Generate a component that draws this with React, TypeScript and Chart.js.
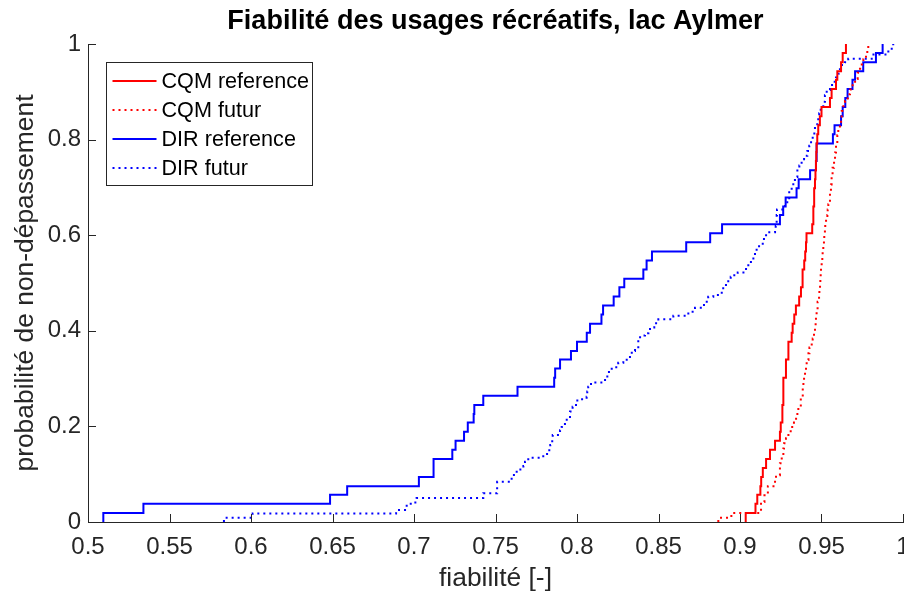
import React, { useEffect, useRef } from 'react';
import { Chart, registerables } from 'chart.js';

Chart.register(...registerables);

const chartTitle = 'Fiabilité des usages récréatifs, lac Aylmer';
const xAxisLabel = 'fiabilité [-]';
const yAxisLabel = 'probabilité de non-dépassement';
const seriesNames = ['CQM reference', 'CQM futur', 'DIR reference', 'DIR futur'];

const xTickValues = [0.5, 0.55, 0.6, 0.65, 0.7, 0.75, 0.8, 0.85, 0.9, 0.95, 1];
const yTickValues = [0, 0.2, 0.4, 0.6, 0.8, 1];

// CQM reference (stair corners: fiabilité, probabilité)
const cqmRefX = [0.9035, 0.9035, 0.9095, 0.9106, 0.9125, 0.913, 0.914, 0.916, 0.9184, 0.9215, 0.9245, 0.925, 0.926, 0.9266, 0.9282, 0.9297, 0.9317, 0.9323, 0.9333, 0.9343, 0.9363, 0.9374, 0.9384, 0.9394, 0.94, 0.9405, 0.9408, 0.9443, 0.945, 0.9455, 0.946, 0.9463, 0.9466, 0.9468, 0.947, 0.9474, 0.948, 0.949, 0.95, 0.9552, 0.9562, 0.9589, 0.9597, 0.962, 0.963, 0.965];
const cqmRefP = [0, 0.019, 0.038, 0.057, 0.075, 0.094, 0.113, 0.132, 0.151, 0.17, 0.189, 0.208, 0.245, 0.302, 0.34, 0.377, 0.396, 0.415, 0.434, 0.453, 0.472, 0.491, 0.528, 0.547, 0.566, 0.585, 0.604, 0.623, 0.66, 0.698, 0.717, 0.736, 0.755, 0.774, 0.792, 0.811, 0.83, 0.849, 0.868, 0.887, 0.906, 0.925, 0.943, 0.962, 0.981, 1.0];

// CQM futur
const cqmFutX = [0.8867, 0.8867, 0.8947, 0.9129, 0.915, 0.9171, 0.9215, 0.9221, 0.9245, 0.9256, 0.9266, 0.927, 0.9282, 0.9297, 0.9311, 0.9331, 0.9344, 0.9352, 0.9358, 0.9373, 0.9385, 0.9389, 0.9393, 0.9399, 0.9405, 0.9409, 0.942, 0.9426, 0.944, 0.9446, 0.9454, 0.946, 0.9464, 0.9466, 0.947, 0.9476, 0.948, 0.9485, 0.9487, 0.9491, 0.9493, 0.9495, 0.9497, 0.9501, 0.9505, 0.9507, 0.9511, 0.9515, 0.9517, 0.9521, 0.9523, 0.9528, 0.9536, 0.9538, 0.9542, 0.9552, 0.9558, 0.9562, 0.9568, 0.9577, 0.9583, 0.9589, 0.9597, 0.9603, 0.9613, 0.962, 0.9624, 0.9634, 0.9644, 0.9661, 0.9675, 0.9691, 0.9706, 0.9722, 0.9736, 0.9747, 0.9757, 0.9773, 0.9781, 0.9787];
const cqmFutP = [0, 0.009, 0.019, 0.042, 0.056, 0.075, 0.088, 0.098, 0.123, 0.133, 0.154, 0.165, 0.175, 0.186, 0.199, 0.208, 0.22, 0.231, 0.241, 0.259, 0.28, 0.293, 0.304, 0.314, 0.326, 0.339, 0.353, 0.365, 0.375, 0.384, 0.396, 0.407, 0.419, 0.431, 0.442, 0.461, 0.464, 0.475, 0.485, 0.496, 0.508, 0.519, 0.531, 0.542, 0.554, 0.565, 0.576, 0.588, 0.6, 0.612, 0.623, 0.633, 0.642, 0.654, 0.665, 0.689, 0.706, 0.724, 0.741, 0.759, 0.773, 0.79, 0.809, 0.822, 0.835, 0.846, 0.86, 0.87, 0.881, 0.895, 0.905, 0.917, 0.927, 0.94, 0.948, 0.957, 0.968, 0.978, 0.989, 1.0];

// DIR reference
const dirRefX = [0.5094, 0.5094, 0.534, 0.6485, 0.659, 0.703, 0.712, 0.7235, 0.7255, 0.7307, 0.733, 0.7366, 0.737, 0.7425, 0.7635, 0.786, 0.7866, 0.7896, 0.7963, 0.8, 0.806, 0.808, 0.815, 0.816, 0.8225, 0.826, 0.829, 0.8407, 0.8427, 0.846, 0.867, 0.8817, 0.889, 0.9245, 0.9265, 0.928, 0.9347, 0.936, 0.943, 0.9466, 0.947, 0.957, 0.958, 0.962, 0.963, 0.9646, 0.966, 0.969, 0.9706, 0.9756, 0.9834, 0.9875];
const dirRefP = [0, 0.019, 0.038, 0.057, 0.075, 0.094, 0.132, 0.151, 0.17, 0.189, 0.208, 0.226, 0.245, 0.264, 0.283, 0.302, 0.321, 0.34, 0.358, 0.377, 0.396, 0.415, 0.434, 0.453, 0.472, 0.491, 0.509, 0.528, 0.547, 0.566, 0.585, 0.604, 0.623, 0.642, 0.66, 0.679, 0.698, 0.717, 0.736, 0.755, 0.792, 0.811, 0.83, 0.849, 0.868, 0.887, 0.906, 0.925, 0.943, 0.962, 0.981, 1.0];

// DIR futur
const dirFutX = [0.5834, 0.5834, 0.601, 0.689, 0.6945, 0.698, 0.7016, 0.7425, 0.751, 0.7599, 0.7613, 0.763, 0.7671, 0.7681, 0.7701, 0.7793, 0.783, 0.7836, 0.7848, 0.7851, 0.7896, 0.7906, 0.7926, 0.7937, 0.7957, 0.7973, 0.7994, 0.8002, 0.8059, 0.8063, 0.8069, 0.8086, 0.8172, 0.8186, 0.8196, 0.8213, 0.8253, 0.8284, 0.8305, 0.8325, 0.8336, 0.8356, 0.8376, 0.8387, 0.8417, 0.8438, 0.8448, 0.8474, 0.8499, 0.8591, 0.8683, 0.8724, 0.8779, 0.8796, 0.8805, 0.8836, 0.8888, 0.8897, 0.8914, 0.8928, 0.8943, 0.8965, 0.8986, 0.9037, 0.9051, 0.9067, 0.9082, 0.9092, 0.9102, 0.9117, 0.9147, 0.916, 0.9215, 0.9219, 0.9225, 0.9227, 0.9276, 0.929, 0.9302, 0.9317, 0.9327, 0.9337, 0.9352, 0.9364, 0.9378, 0.9393, 0.9413, 0.9425, 0.9436, 0.9446, 0.9456, 0.946, 0.948, 0.9486, 0.9495, 0.9511, 0.9521, 0.9532, 0.9552, 0.9572, 0.9589, 0.9603, 0.9613, 0.9624, 0.9644, 0.9664, 0.9808, 0.991, 0.994];
const dirFutP = [0, 0.009, 0.018, 0.025, 0.034, 0.041, 0.05, 0.06, 0.084, 0.0935, 0.102, 0.11, 0.117, 0.126, 0.1345, 0.142, 0.152, 0.161, 0.171, 0.182, 0.192, 0.199, 0.208, 0.217, 0.231, 0.241, 0.248, 0.257, 0.262, 0.273, 0.283, 0.292, 0.3, 0.309, 0.3165, 0.3236, 0.333, 0.337, 0.342, 0.349, 0.358, 0.362, 0.381, 0.39, 0.395, 0.4, 0.407, 0.416, 0.424, 0.4316, 0.44, 0.448, 0.4575, 0.464, 0.471, 0.475, 0.485, 0.492, 0.499, 0.506, 0.513, 0.519, 0.522, 0.532, 0.539, 0.548, 0.556, 0.565, 0.574, 0.582, 0.596, 0.606, 0.609, 0.619, 0.642, 0.654, 0.6646, 0.675, 0.6925, 0.704, 0.713, 0.722, 0.738, 0.746, 0.759, 0.766, 0.776, 0.787, 0.797, 0.808, 0.822, 0.832, 0.846, 0.855, 0.865, 0.879, 0.893, 0.904, 0.914, 0.921, 0.93, 0.938, 0.947, 0.956, 0.962, 0.969, 0.978, 0.99, 1.0];

const FONT = '"Liberation Sans", Arial, Helvetica, sans-serif';
const AXIS_COLOR = '#262626';

const toPoints = (xs: number[], ps: number[]) => xs.map((x, i) => ({ x, y: ps[i] }));

const inwardTicks = {
  id: 'inwardTicks',
  afterDraw(chart: any) {
    const { ctx, chartArea, scales } = chart;
    const len = 8;
    ctx.save();
    ctx.strokeStyle = AXIS_COLOR;
    ctx.lineWidth = 1;
    ctx.beginPath();
    xTickValues.forEach((v) => {
      const px = Math.round(scales.x.getPixelForValue(v)) + 0.5;
      ctx.moveTo(px, chartArea.bottom);
      ctx.lineTo(px, chartArea.bottom - len);
    });
    yTickValues.forEach((v) => {
      const py = Math.round(scales.y.getPixelForValue(v)) + 0.5;
      ctx.moveTo(chartArea.left, py);
      ctx.lineTo(chartArea.left + len, py);
    });
    ctx.stroke();
    ctx.restore();
  },
};

const boxLegend = {
  id: 'boxLegend',
  afterDraw(chart: any) {
    const { ctx, chartArea } = chart;
    const x0 = Math.round(chartArea.left + 18) + 0.5;
    const y0 = Math.round(chartArea.top + 18) + 0.5;
    const w = 206;
    const h = 123;
    ctx.save();
    ctx.fillStyle = '#ffffff';
    ctx.fillRect(x0, y0, w, h);
    ctx.strokeStyle = AXIS_COLOR;
    ctx.lineWidth = 1;
    ctx.setLineDash([]);
    ctx.strokeRect(x0, y0, w, h);
    chart.data.datasets.forEach((ds: any, i: number) => {
      const cy = y0 + 18.5 + i * 29;
      ctx.strokeStyle = ds.borderColor;
      ctx.lineWidth = ds.borderWidth;
      ctx.setLineDash(ds.borderDash || []);
      ctx.beginPath();
      ctx.moveTo(x0 + 6, cy);
      ctx.lineTo(x0 + 50, cy);
      ctx.stroke();
      ctx.setLineDash([]);
      ctx.fillStyle = '#000000';
      ctx.font = `21.6px ${FONT}`;
      ctx.textBaseline = 'middle';
      ctx.textAlign = 'left';
      ctx.fillText(ds.label, x0 + 55, cy + 1);
    });
    ctx.restore();
  },
};

export default function App() {
  const canvasRef = useRef<HTMLCanvasElement | null>(null);

  useEffect(() => {
    if (!canvasRef.current) return;
    const red = '#ff0000';
    const blue = '#0000ff';
    const dotted = [2, 4];
    const chart = new Chart(canvasRef.current, {
      type: 'line',
      data: {
        datasets: [
          { label: seriesNames[0], data: toPoints(cqmRefX, cqmRefP), borderColor: red, borderWidth: 2, stepped: true, pointRadius: 0, fill: false },
          { label: seriesNames[1], data: toPoints(cqmFutX, cqmFutP), borderColor: red, borderWidth: 2, borderDash: dotted, stepped: true, pointRadius: 0, fill: false },
          { label: seriesNames[2], data: toPoints(dirRefX, dirRefP), borderColor: blue, borderWidth: 2, stepped: true, pointRadius: 0, fill: false },
          { label: seriesNames[3], data: toPoints(dirFutX, dirFutP), borderColor: blue, borderWidth: 2, borderDash: dotted, stepped: true, pointRadius: 0, fill: false },
        ] as any,
      },
      options: {
        animation: false,
        responsive: true,
        maintainAspectRatio: false,
        layout: { padding: { left: 0, right: 1, top: 0, bottom: 0 } },
        plugins: {
          legend: { display: false },
          tooltip: { enabled: false },
          title: {
            display: true,
            text: chartTitle,
            fullSize: false,
            color: '#000000',
            font: { family: FONT, size: 27, weight: 'bold' },
            padding: { top: 5, bottom: 6.6 },
          },
        },
        scales: {
          x: {
            type: 'linear',
            min: 0.5,
            max: 1,
            grid: { display: false, drawTicks: false },
            border: { display: true, color: AXIS_COLOR, width: 1 },
            afterBuildTicks: (scale: any) => {
              scale.ticks = xTickValues.map((v) => ({ value: v }));
            },
            afterFit: (scale: any) => {
              scale.height = 76;
              scale.paddingLeft = 0;
              scale.paddingRight = 0;
            },
            ticks: {
              color: AXIS_COLOR,
              font: { family: FONT, size: 24 },
              padding: 11,
              maxRotation: 0,
              autoSkip: false,
              callback: (v: any) => String(v),
            },
            title: {
              display: true,
              text: xAxisLabel,
              color: AXIS_COLOR,
              font: { family: FONT, size: 26.4 },
              padding: { top: 0, bottom: 3 },
            },
          },
          y: {
            type: 'linear',
            min: 0,
            max: 1,
            grid: { display: false, drawTicks: false },
            border: { display: true, color: AXIS_COLOR, width: 1 },
            afterBuildTicks: (scale: any) => {
              scale.ticks = yTickValues.map((v) => ({ value: v }));
            },
            afterFit: (scale: any) => {
              scale.width = 88;
              scale.paddingTop = 0;
              scale.paddingBottom = 0;
            },
            ticks: {
              color: AXIS_COLOR,
              font: { family: FONT, size: 24 },
              padding: 7,
              autoSkip: false,
              callback: (v: any) => String(v),
            },
            title: {
              display: true,
              text: yAxisLabel,
              color: AXIS_COLOR,
              font: { family: FONT, size: 26.4 },
              padding: { top: 10, bottom: 0 },
            },
          },
        },
      } as any,
      plugins: [inwardTicks, boxLegend],
    });
    return () => chart.destroy();
  }, []);

  return (
    <div style={{ position: 'fixed', left: 0, top: 0, width: 904, height: 598, background: '#ffffff' }}>
      <canvas ref={canvasRef} />
    </div>
  );
}
